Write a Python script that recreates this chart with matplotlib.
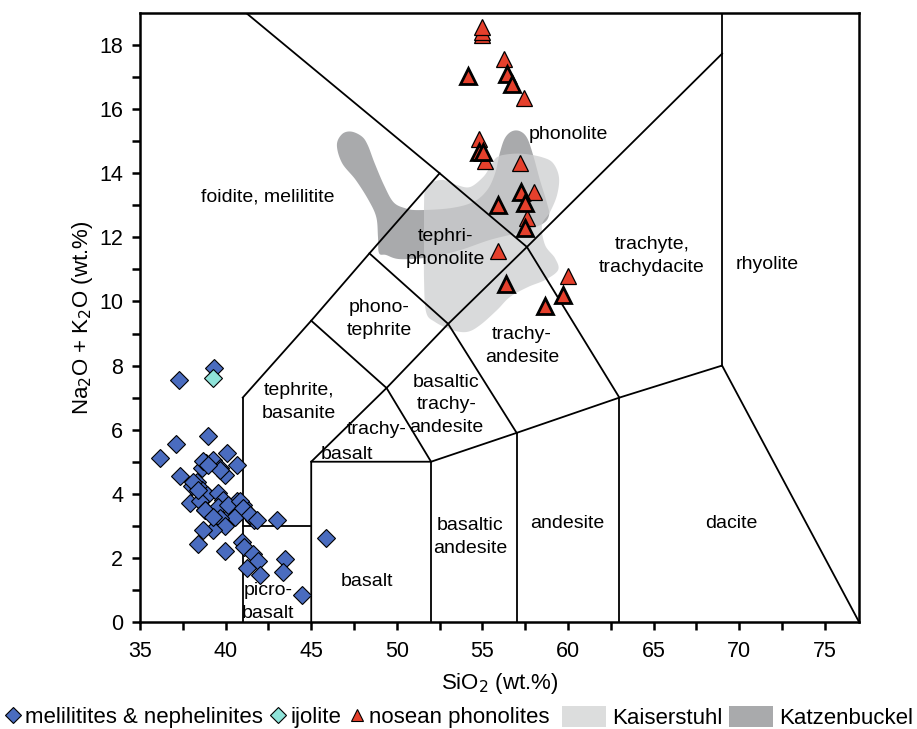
import numpy as np
import matplotlib
matplotlib.use("Agg")
import matplotlib.pyplot as plt
from matplotlib.lines import Line2D
from matplotlib.patches import Patch, Polygon

plt.rcParams['font.family'] = ['Liberation Sans', 'DejaVu Sans']

# ---------------- data ----------------
# melilitites & nephelinites (SiO2, Na2O+K2O)
mel_sio2 = [37.28, 39.32, 37.10, 38.95, 36.17, 40.10, 40.68, 37.34, 38.86, 39.28,
            39.67, 39.96, 38.60, 38.31, 38.02, 38.60, 38.90, 39.57, 39.87, 37.92,
            38.50, 38.80, 39.28, 39.57, 40.35, 40.64, 40.99, 41.33, 41.66, 42.98,
            40.26, 40.55, 39.67, 39.96, 39.28, 38.70, 38.41, 39.96, 40.94, 41.07,
            41.62, 41.91, 41.27, 42.01, 43.47, 43.33, 44.44, 45.86, 38.70, 38.11,
            38.41, 40.16, 40.84, 41.03, 41.43, 41.82, 38.80, 39.28, 39.67, 38.95]
mel_alk = [7.54, 7.93, 5.56, 5.79, 5.11, 5.27, 4.91, 4.56, 4.96, 5.06,
           4.80, 4.59, 4.80, 4.38, 4.23, 4.13, 3.97, 4.02, 3.81, 3.71,
           3.76, 3.50, 3.40, 3.60, 3.60, 3.76, 3.66, 3.40, 3.19, 3.19,
           3.34, 3.29, 3.24, 2.98, 2.88, 2.88, 2.44, 2.20, 2.51, 2.35,
           2.13, 1.89, 1.68, 1.47, 1.97, 1.57, 0.84, 2.61, 5.01, 4.38,
           4.13, 3.66, 3.76, 3.55, 3.34, 3.19, 3.50, 3.29, 4.75, 4.90]

# ijolite
ijo_sio2 = [39.28]
ijo_alk = [7.62]

# nosean phonolites (two analytical groups, drawn with thin / bold outlines)
pho_sio2 = [54.96, 54.96, 55.00, 56.28, 57.45, 54.82, 55.15, 57.20, 58.03,
            57.63, 55.89, 60.01]
pho_alk = [18.30, 18.42, 18.55, 17.56, 16.36, 15.06, 14.38, 14.33, 13.42,
           12.61, 11.57, 10.79]
phob_sio2 = [54.18, 56.42, 56.71, 54.82, 55.05, 55.89, 57.24, 57.49, 57.49,
             56.38, 59.73, 58.66]
phob_alk = [17.04, 17.09, 16.78, 14.65, 14.65, 13.00, 13.40, 13.08, 12.30,
            10.53, 10.19, 9.85]

# outline of the Katzenbuckel field
katz_sio2 = [46.50, 46.80, 47.33, 47.95, 48.30, 48.70, 49.25, 49.80, 50.48,
             51.24, 53.11, 54.45, 55.27, 55.74, 56.03, 56.32, 56.73, 57.20,
             57.61, 57.96, 58.36, 58.77, 58.89, 58.48, 57.20, 55.44, 53.69,
             51.94, 50.19, 49.37, 48.96, 48.90, 48.80, 48.35, 47.60, 46.80]
katz_alk = [14.88, 15.22, 15.30, 15.15, 14.88, 14.32, 13.63, 13.10, 12.91,
            12.85, 12.91, 13.10, 13.47, 14.00, 14.66, 15.10, 15.31, 15.31,
            15.10, 14.57, 13.79, 13.07, 12.69, 12.41, 12.16, 11.92, 11.60,
            11.38, 11.32, 11.45, 11.51, 12.01, 12.63, 13.16, 13.79, 14.32]

# outline of the Kaiserstuhl field
kais_sio2 = [51.65, 51.94, 52.70, 53.52, 54.28, 55.04, 55.44, 55.85, 56.61,
             57.49, 58.48, 59.12, 59.47, 59.36, 58.95, 58.48, 58.66, 59.24,
             59.42, 58.66, 57.66, 56.61, 55.85, 54.86, 54.10, 53.22, 52.23,
             51.71, 51.59, 51.59, 51.59]
kais_alk = [13.47, 13.69, 13.79, 13.63, 13.57, 13.88, 14.19, 14.50, 14.60,
            14.60, 14.50, 14.32, 13.88, 13.32, 12.79, 12.38, 11.76, 11.35,
            10.98, 10.67, 10.45, 10.14, 9.73, 9.26, 9.05, 9.11, 9.36,
            9.67, 10.67, 11.92, 13.01]

# TAS classification boundaries (Le Bas et al. 1986)
tas_lines = [
    [(41, 0), (41, 7)],
    [(41, 3), (45, 3)],
    [(45, 0), (45, 5), (52, 5), (57, 5.9), (63, 7), (69, 8), (77, 0)],
    [(52, 0), (52, 5)],
    [(57, 0), (57, 5.9)],
    [(63, 0), (63, 7)],
    [(69, 8), (69, 19)],
    [(41, 7), (45, 9.4), (48.4, 11.5), (52.5, 14), (57.6, 11.7), (63, 7)],
    [(45, 5), (49.4, 7.3), (53, 9.3), (57.6, 11.7), (69, 17.73)],
    [(49.4, 7.3), (52, 5)],
    [(53, 9.3), (57, 5.9)],
    [(45, 9.4), (49.4, 7.3)],
    [(48.4, 11.5), (53, 9.3)],
    [(52.5, 14), (41.2, 19)],
]

# field names and their label anchors
field_names = ["foidite, melilitite", "phonolite", "tephri-\nphonolite",
               "trachyte,\ntrachydacite", "rhyolite", "phono-\ntephrite",
               "trachy-\nandesite", "tephrite,\nbasanite",
               "basaltic\ntrachy-\nandesite", "trachy-", "basalt",
               "basaltic\nandesite", "andesite", "dacite", "basalt",
               "picro-\nbasalt"]
field_x = [42.48, 60.05, 52.85, 64.9, 71.62, 48.96, 57.3, 44.3, 52.9, 48.85,
           47.1, 54.28, 59.94, 69.52, 48.26, 42.5]
field_y = [13.26, 15.2, 11.68, 11.42, 11.14, 9.45, 8.6, 6.85, 6.77, 6.01,
           5.24, 2.64, 3.06, 3.06, 1.25, 0.62]

xticks = [35, 40, 45, 50, 55, 60, 65, 70, 75]
yticks = [0, 2, 4, 6, 8, 10, 12, 14, 16, 18]


def smooth_closed(xs, ys, n=12):
    """Closed Catmull-Rom curve through the outline vertices."""
    p = np.column_stack([xs, ys]).astype(float)
    m = len(p)
    out = []
    for i in range(m):
        p0, p1, p2, p3 = p[i - 1], p[i], p[(i + 1) % m], p[(i + 2) % m]
        for t in np.linspace(0, 1, n, endpoint=False):
            t2, t3 = t * t, t * t * t
            out.append(0.5 * ((2 * p1) + (-p0 + p2) * t
                              + (2 * p0 - 5 * p1 + 4 * p2 - p3) * t2
                              + (-p0 + 3 * p1 - 3 * p2 + p3) * t3))
    return np.array(out)


fig = plt.figure(figsize=(9.17, 7.29), dpi=100)
ax = fig.add_axes([0.1527, 0.1468, 0.7841, 0.8354])

dark_col = '#a9aaac'
light_col = '#cdcecf'
ax.add_patch(Polygon(smooth_closed(katz_sio2, katz_alk), closed=True,
                     facecolor=dark_col, edgecolor='none', zorder=1))
ax.add_patch(Polygon(smooth_closed(kais_sio2, kais_alk), closed=True,
                     facecolor=light_col, alpha=0.75, edgecolor='none', zorder=2))

for seg in tas_lines:
    xs, ys = zip(*seg)
    ax.plot(xs, ys, color='black', lw=1.3, zorder=3, solid_joinstyle='miter')

for name, x, y in zip(field_names, field_x, field_y):
    ax.text(x, y, name, ha='center', va='center', fontsize=14,
            linespacing=1.45, zorder=4)

blue = '#4a6cbf'
cyan = '#8fe3d9'
red = '#e5402c'
ax.plot(mel_sio2, mel_alk, 'D', ms=9, mfc=blue, mec='black', mew=0.8,
        ls='none', zorder=5)
ax.plot(ijo_sio2, ijo_alk, 'D', ms=9, mfc=cyan, mec='black', mew=0.8,
        ls='none', zorder=5)
ax.plot(pho_sio2, pho_alk, '^', ms=11, mfc=red, mec='black', mew=0.9,
        ls='none', zorder=5)
ax.plot(phob_sio2, phob_alk, '^', ms=11, mfc=red, mec='black', mew=2.0,
        ls='none', zorder=6)

ax.set_xlim(35, 77)
ax.set_ylim(0, 19)
ax.set_xticks(xticks)
ax.set_xticks(np.arange(37.5, 77, 5), minor=True)
ax.set_yticks(yticks)
ax.set_yticks(np.arange(1, 19, 2), minor=True)
ax.tick_params(which='both', direction='out', length=6, width=1.8,
               labelsize=15.5)
ax.tick_params(axis='x', which='both', pad=8)
ax.tick_params(axis='y', which='both', pad=6)
for s in ax.spines.values():
    s.set_linewidth(1.8)
ax.set_xlabel('SiO$_2$ (wt.%)', fontsize=16, labelpad=6)
ax.set_ylabel('Na$_2$O + K$_2$O (wt.%)', fontsize=16, labelpad=3)

marker_handles = [
    Line2D([], [], marker='D', ls='none', ms=8, mfc=blue, mec='black', mew=0.8),
    Line2D([], [], marker='D', ls='none', ms=8, mfc=cyan, mec='black', mew=0.8),
    Line2D([], [], marker='^', ls='none', ms=9, mfc=red, mec='black', mew=0.8),
]
marker_labels = ['melilitites & nephelinites', 'ijolite', 'nosean phonolites']
field_handles = [Patch(facecolor='#dcdddd', edgecolor='none'),
                 Patch(facecolor=dark_col, edgecolor='none')]
field_labels = ['Kaiserstuhl', 'Katzenbuckel']

fig.legend(marker_handles, marker_labels, loc='center left',
           bbox_to_anchor=(0.003, 0.016), ncol=3, frameon=False, fontsize=16,
           handlelength=0.7, handletextpad=0.2, columnspacing=0.35,
           borderaxespad=0, borderpad=0.1)
fig.legend(field_handles, field_labels, loc='center right',
           bbox_to_anchor=(0.998, 0.016), ncol=2, frameon=False, fontsize=16,
           handlelength=2.0, handleheight=1.05, handletextpad=0.25,
           columnspacing=0.3, borderaxespad=0, borderpad=0.1)

fig.savefig('out.png', dpi=100)
